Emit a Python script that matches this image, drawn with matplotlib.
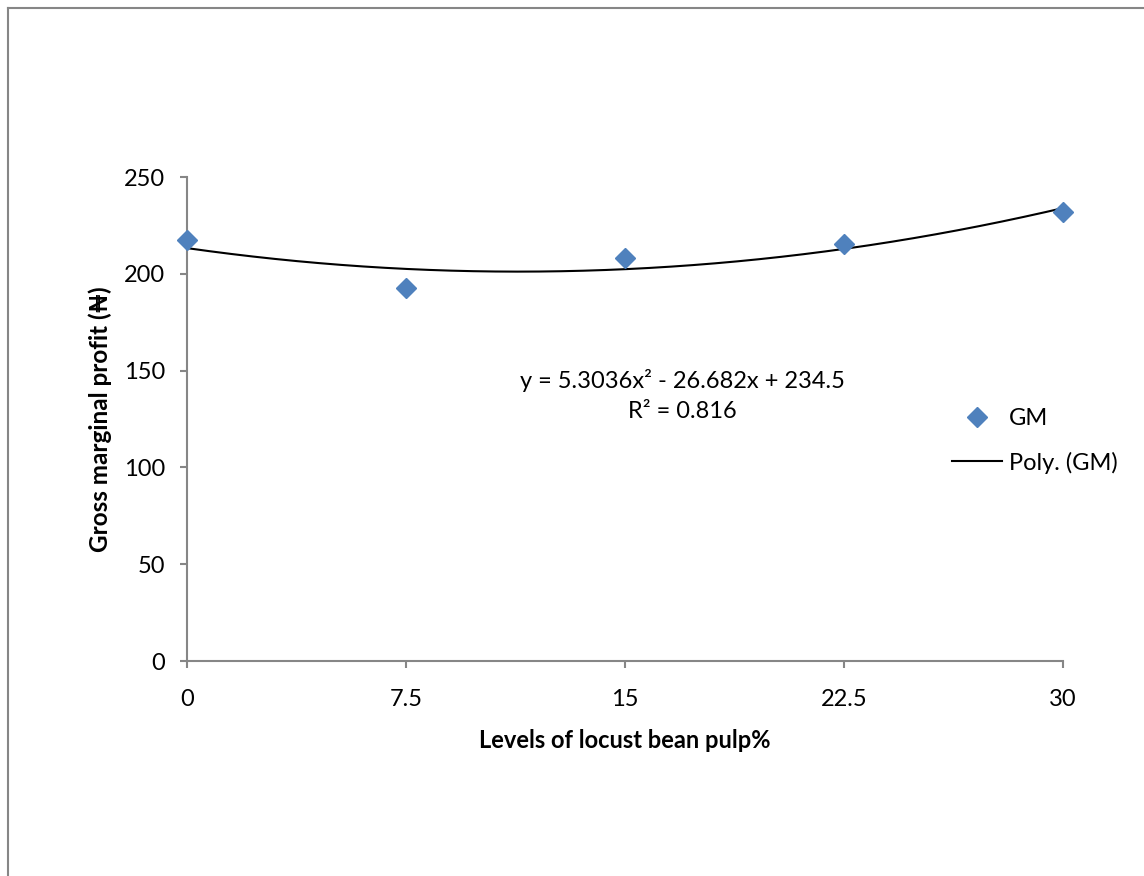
import matplotlib
matplotlib.use("Agg")
import matplotlib.pyplot as plt
from matplotlib.lines import Line2D
import numpy as np

# ---- data ----
levels = [0, 7.5, 15, 22.5, 30]
level_labels = ["0", "7.5", "15", "22.5", "30"]
gm = [217.3, 192.6, 208.0, 215.3, 231.8]
yticks = [0, 50, 100, 150, 200, 250]
equation = "y = 5.3036x² - 26.682x + 234.5"
r2_text = "R² = 0.816"

plt.rcParams['font.family'] = ['Lato', 'DejaVu Sans']

W, H = 1144, 876
fig = plt.figure(figsize=(W / 100, H / 100), dpi=100)
fig.patch.set_facecolor('white')

x0, x1, ytop, ybot = 187, 1063, 177, 661
ax = fig.add_axes([x0 / W, 1 - ybot / H, (x1 - x0) / W, (ybot - ytop) / H])

blue = '#4F81BD'
gray = '#868686'

# polynomial trend (fit against point index 1..n as in the spreadsheet)
idx = np.arange(1, len(gm) + 1)
coef = np.polyfit(idx, gm, 2)
xs = np.linspace(levels[0], levels[-1], 200)
step = levels[1] - levels[0]
ys = np.polyval(coef, xs / step + 1)

ax.plot(levels, gm, ls='none', marker='D', ms=10, color=blue, mec=blue,
        clip_on=False, zorder=3, label='GM')
ax.plot(xs, ys, color='black', lw=1.5, zorder=2, label='Poly. (GM)')

ax.set_xlim(levels[0], levels[-1])
ax.set_ylim(yticks[0], yticks[-1])
ax.set_xticks(levels)
ax.set_xticklabels(level_labels)
ax.set_yticks(yticks)

for s in ['top', 'right']:
    ax.spines[s].set_visible(False)
for s in ['left', 'bottom']:
    ax.spines[s].set_color(gray)
    ax.spines[s].set_linewidth(1.5)

ax.tick_params(axis='both', direction='out', length=5, width=1.5, color=gray,
               labelsize=17, labelcolor='black')
ax.tick_params(axis='x', pad=15)
ax.tick_params(axis='y', pad=11)

ax.set_xlabel('Levels of locust bean pulp%', fontsize=17, fontweight='bold')
ax.set_ylabel('Gross marginal profit (₦)', fontsize=17.5, fontweight='bold')
ax.xaxis.set_label_coords(0.5, (ybot - 740) / (ybot - ytop))
ax.xaxis.label.set_va('center')
ax.yaxis.set_label_coords((100 - x0) / (x1 - x0), 0.5)
ax.yaxis.label.set_va('center')

ax.text(16.95, 145.1, equation, fontsize=17, ha='center', va='center')
ax.text(16.95, 129.1, r2_text, fontsize=17, ha='center', va='center')

leg = ax.legend(loc='center left', bbox_to_anchor=(952 / W, 1 - 441 / H),
                bbox_transform=fig.transFigure, frameon=False, fontsize=17,
                handlelength=2.1, handletextpad=0.3, labelspacing=0.95,
                borderpad=0, borderaxespad=0)

# outer chart border (cropped on right/bottom)
fig.add_artist(Line2D([7.5 / W, 7.5 / W], [0, 1 - 7.5 / H], color=gray, lw=1.5,
                      transform=fig.transFigure))
fig.add_artist(Line2D([7.5 / W, 1], [1 - 7.5 / H, 1 - 7.5 / H], color=gray, lw=1.5,
                      transform=fig.transFigure))

fig.savefig('out.png', dpi=100)
